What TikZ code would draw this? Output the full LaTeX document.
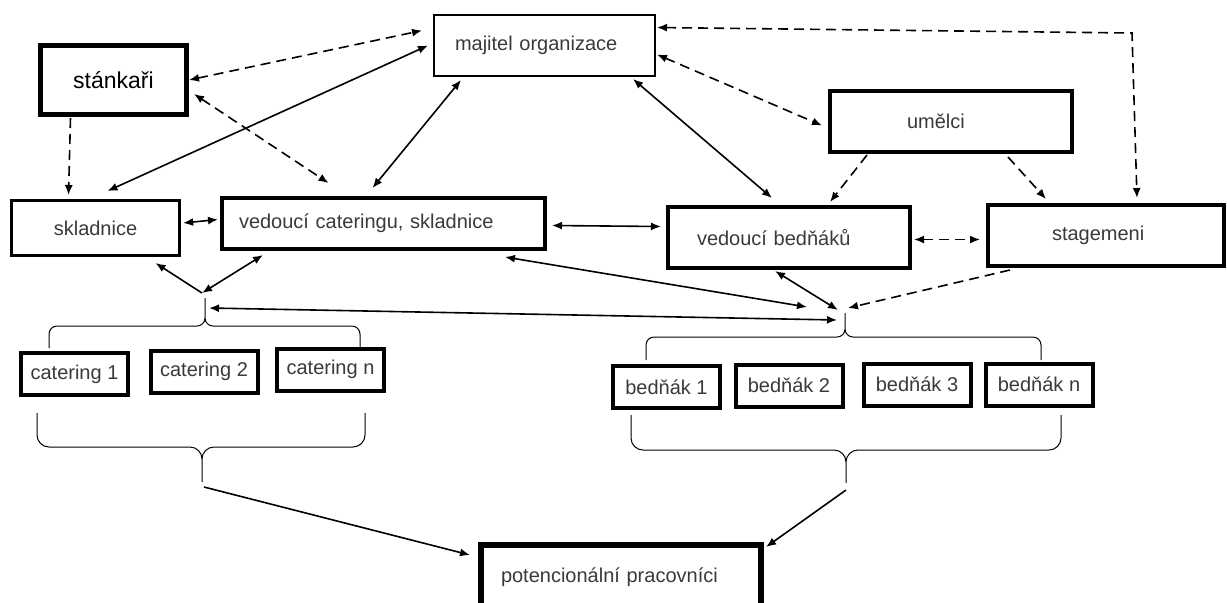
\documentclass[tikz,border=0pt]{standalone}
\usepackage{fontspec}
\setmainfont{Liberation Sans}
\usepackage{xcolor}
\usetikzlibrary{arrows.meta, positioning, calc}
\definecolor{textgray}{HTML}{3A3A3A}
\tikzstyle{line} = [line width=0.8pt, -]

\begin{document}
\begin{tikzpicture}[
    x=0.5pt, y=-0.5pt,
    >={Latex[length=5pt,width=4pt]},
    box/.style={rectangle, draw, line width=2pt, fill=white, text=textgray, inner sep=0pt, align=left,
        font=\fontsize{10}{12}\selectfont},
    small/.style={box, minimum width=53.5pt, minimum height=21pt, align=center},
    arrow/.style={line, ->},
    darrow/.style={line, <->},
    dline/.style={dash pattern=on 5pt off 3pt},
    brace/.style={line width=0.5pt, rounded corners=4pt}
]
    \useasboundingbox (0,0) rectangle (1227,602);

    % top row
    \node[box, line width=2.5pt, text=black, font=\fontsize{11.5}{14}\selectfont, align=center,
        minimum width=73pt, minimum height=34.5pt] (stank) at (113.5,80) {stánkaři};
    \node[box, line width=1.2pt, text width=89.5pt, inner xsep=10.4pt, minimum height=30.3pt] (majitel) at (544.5,45.5) {majitel organizace};
    \node[box, text width=44pt, inner xsep=38.5pt, minimum height=30.5pt] (umelci) at (951,121.5) {umělci};

    % middle row
    \node[box, line width=1.6pt, align=center, minimum width=84pt, minimum height=27.4pt] (skladnice) at (95.5,228) {skladnice};
    \node[box, text width=144.5pt, inner xsep=8.5pt, minimum height=25.5pt] (vedcat) at (383.5,223.5) {vedoucí cateringu, skladnice};
    \node[box, text width=92pt, inner xsep=14.5pt, minimum height=30.5pt] (vedbed) at (789,237.5) {vedoucí bedňáků};
    \node[box, text width=54pt, inner xsep=32pt, minimum height=30.5pt] (stage) at (1106,235.5) {stagemeni};

    % workers
    \node[small] (cat1) at (74.5,374) {catering 1};
    \node[small] (cat2) at (204,371.5) {catering 2};
    \node[small] (catn) at (330.5,369.5) {catering n};
    \node[small] (bed1) at (666.5,387) {bedňák 1};
    \node[small] (bed2) at (789,385.5) {bedňák 2};
    \node[small] (bed3) at (917,384.5) {bedňák 3};
    \node[small] (bedn) at (1039,384.5) {bedňák n};

    \node[box, line width=3pt, text width=120pt, inner xsep=10pt, minimum height=32pt] (poten) at (621,577) {potencionální pracovníci};

    % brace tips and joints
    \coordinate (catup) at (202,293);
    \coordinate (catlink) at (209,308);
    \coordinate (catout) at (204,487);
    \coordinate (bedlink) at (837,320);
    \coordinate (bedleft) at (807,307);
    \coordinate (bedup) at (838,310);
    \coordinate (bedright) at (848,308);
    \coordinate (bedout) at (846,490);
    \coordinate (bend) at (1132,33);

    % braces
    \draw[brace] (205,298) -- (205,326) -| (49,348) (205,298) -- (205,326) -| (360,348);
    \draw[brace, rounded corners=6pt] (202,482) -- (202,447) -| (37,413) (202,482) -- (202,447) -| (365,413);
    \draw[brace] (845,313) -- (845,337) -| (646,360) (845,313) -- (845,337) -| (1041,360);
    \draw[brace, rounded corners=6pt] (846,483) -- (846,450) -| (631,415) (846,483) -- (846,450) -| (1061,415);

    % connections
    \draw[darrow, dline] (stank.east) -- ([shift={(-11,-15)}]majitel.west);
    \draw[darrow] ([shift={(-5,0)}]majitel.west) -- ([shift={(12,-8)}]skladnice.north);
    \draw[darrow, dline] ([shift={(5,14)}]stank.east) -- ([shift={(-55,-13)}]vedcat.north);
    \draw[arrow, dline] ([shift={(-43,1)}]stank.south) -- ([shift={(-27,-4)}]skladnice.north);
    \draw[darrow] ([shift={(28,3)}]majitel.south west) -- ([shift={(-11,-8)}]vedcat.north);
    \draw[darrow] ([shift={(-23,2)}]majitel.south east) -- ([shift={(-17,-7)}]vedbed.north);
    \draw[darrow, dline] ([shift={(1,9)}]majitel.east) -- ([shift={(-6,4)}]umelci.west);
    \draw[darrow, dline] ([shift={(1,-18)}]majitel.east) -- (bend) -- ([shift={(31,-5)}]stage.north);
    \draw[arrow, dline] ([shift={(39,1)}]umelci.south west) -- ([shift={(-82,-3)}]vedbed.north east);
    \draw[arrow, dline] ([shift={(-66,3)}]umelci.south east) -- ([shift={(-60,-4)}]stage.north);
    \draw[darrow, dline] ([shift={(2,2)}]vedbed.east) -- ([shift={(-6,4)}]stage.west);
    \draw[darrow] ([shift={(2,-5)}]skladnice.east) -- ([shift={(-2,-4)}]vedcat.west);
    \draw[darrow] ([shift={(5,2)}]vedcat.east) -- ([shift={(-5,-11)}]vedbed.west);

    \draw[arrow] (catup) -- ([shift={(60,6)}]skladnice.south);
    \draw[darrow] (catup) -- ([shift={(43,4)}]vedcat.south west);
    \draw[darrow] (catlink) -- (bedlink);
    \draw[darrow] ([shift={(-42,6)}]vedcat.south east) -- (bedleft);
    \draw[darrow] ([shift={(-14,1)}]vedbed.south) -- (bedup);
    \draw[arrow, dline] ([shift={(24,2)}]stage.south west) -- (bedright);

    \draw[arrow] (catout) -- ([shift={(-8,13)}]poten.north west);
    \draw[arrow] (bedout) -- ([shift={(2,5)}]poten.north east);
\end{tikzpicture}
\end{document}
